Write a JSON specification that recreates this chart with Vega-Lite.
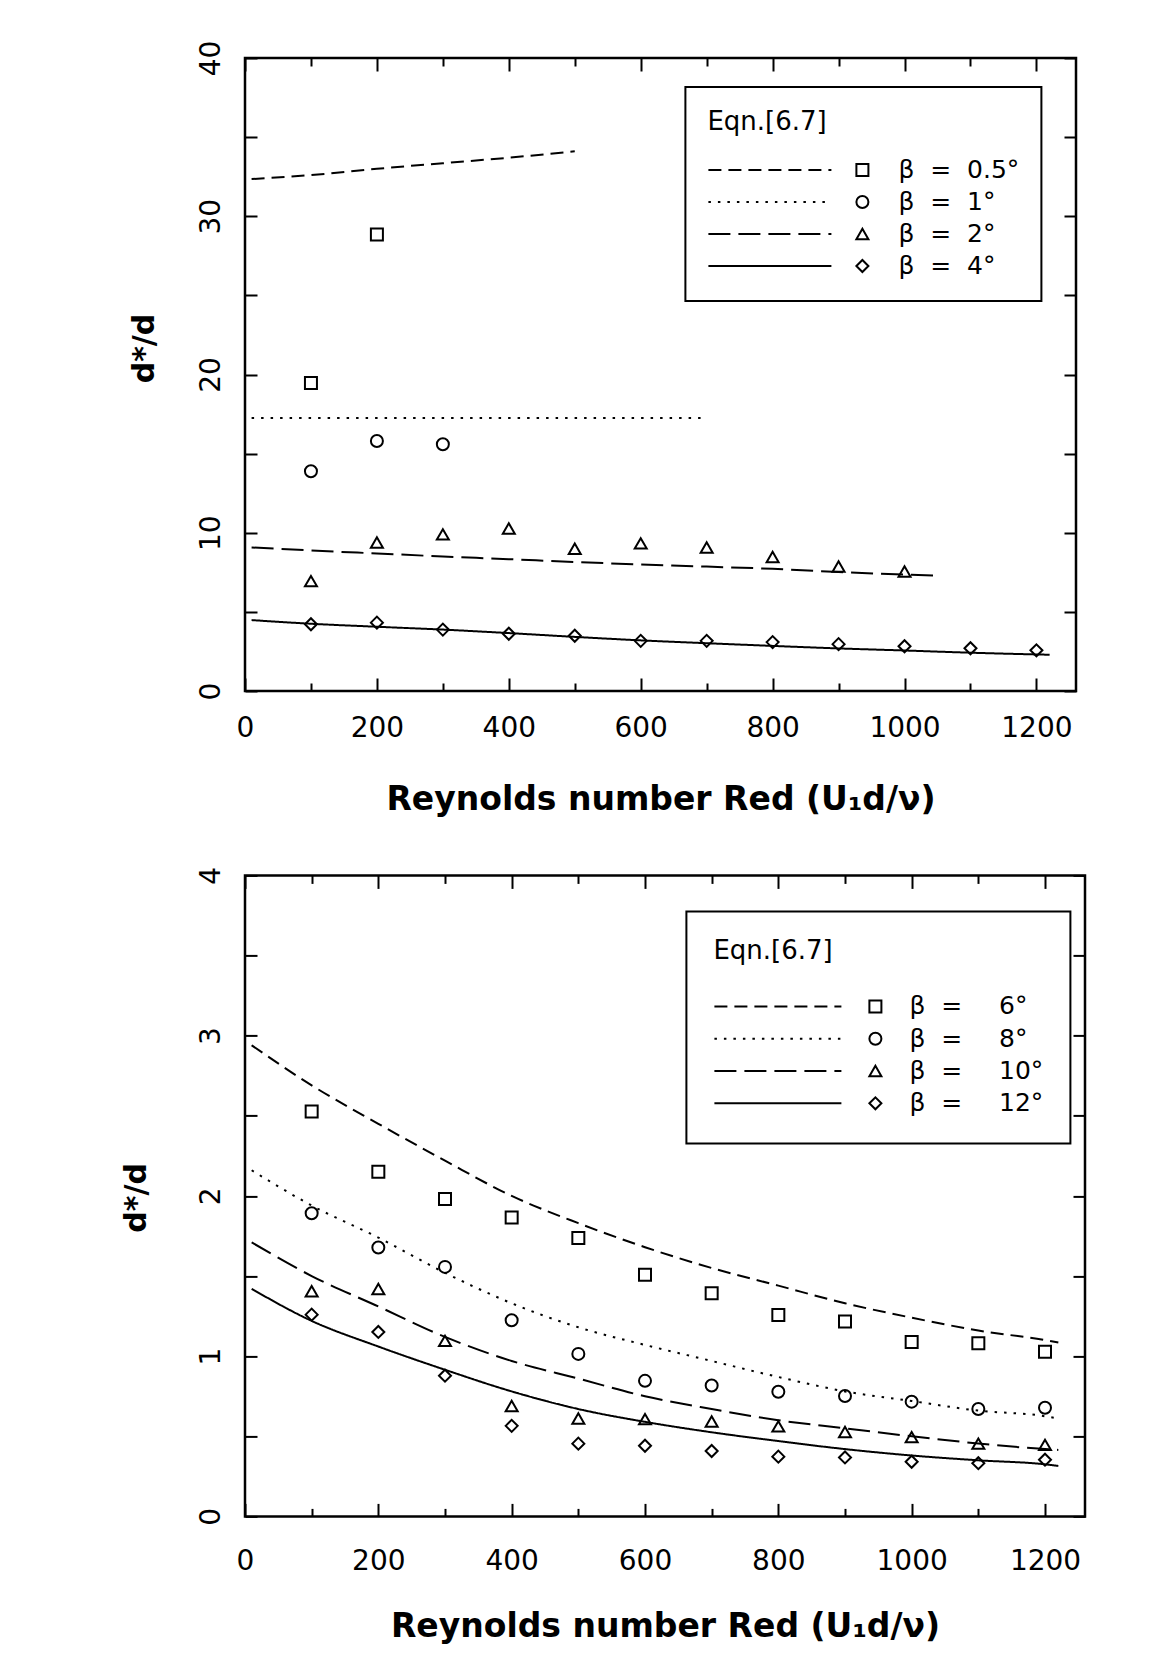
{
  "$schema": "https://vega.github.io/schema/vega-lite/v6.json",
  "background": "white",
  "padding": {"left": 120, "top": 38, "right": 10, "bottom": 10},
  "columns": 1,
  "spacing": 46.4,
  "config": {
    "view": {"stroke": "black", "strokeWidth": 2.5},
    "axis": {
      "grid": false, "domain": false, "tickColor": "black", "tickWidth": 2,
      "labelColor": "black", "titleColor": "black",
      "labelFont": "DejaVu Sans", "labelFontSize": 28,
      "titleFont": "DejaVu Sans", "titleFontWeight": "bold",
      "labelFlush": false, "labelOverlap": false
    },
    "legend": {
      "labelFont": "DejaVu Sans", "labelFontSize": 25, "labelColor": "black",
      "titleFont": "DejaVu Sans", "titleFontSize": 26, "titleFontWeight": "normal", "titleColor": "black",
      "titleAnchor": "start", "symbolStrokeColor": "black", "symbolStrokeWidth": 2
    }
  },
  "resolve": {"scale": {"shape": "independent", "strokeDash": "independent"}},
  "concat": [
    {
      "width": 831,
      "height": 633,
      "layer": [
        {
          "data": {"values": [
            {"beta": 0.5, "Re": 10, "d": 32.35}, {"beta": 0.5, "Re": 100, "d": 32.6}, {"beta": 0.5, "Re": 200, "d": 33.0},
            {"beta": 0.5, "Re": 300, "d": 33.35}, {"beta": 0.5, "Re": 400, "d": 33.7}, {"beta": 0.5, "Re": 500, "d": 34.1},
            {"beta": 1, "Re": 10, "d": 17.25}, {"beta": 1, "Re": 700, "d": 17.25},
            {"beta": 2, "Re": 10, "d": 9.07}, {"beta": 2, "Re": 100, "d": 8.88}, {"beta": 2, "Re": 200, "d": 8.69},
            {"beta": 2, "Re": 300, "d": 8.5}, {"beta": 2, "Re": 400, "d": 8.33}, {"beta": 2, "Re": 500, "d": 8.15},
            {"beta": 2, "Re": 600, "d": 8.0}, {"beta": 2, "Re": 700, "d": 7.86}, {"beta": 2, "Re": 800, "d": 7.72},
            {"beta": 2, "Re": 900, "d": 7.52}, {"beta": 2, "Re": 1000, "d": 7.36}, {"beta": 2, "Re": 1050, "d": 7.29},
            {"beta": 4, "Re": 10, "d": 4.48}, {"beta": 4, "Re": 100, "d": 4.25}, {"beta": 4, "Re": 200, "d": 4.06},
            {"beta": 4, "Re": 300, "d": 3.88}, {"beta": 4, "Re": 400, "d": 3.66}, {"beta": 4, "Re": 500, "d": 3.42},
            {"beta": 4, "Re": 600, "d": 3.2}, {"beta": 4, "Re": 700, "d": 3.02}, {"beta": 4, "Re": 800, "d": 2.85},
            {"beta": 4, "Re": 900, "d": 2.69}, {"beta": 4, "Re": 1000, "d": 2.56}, {"beta": 4, "Re": 1100, "d": 2.42},
            {"beta": 4, "Re": 1200, "d": 2.31}, {"beta": 4, "Re": 1220, "d": 2.29}
          ]},
          "mark": {"type": "line", "color": "black", "strokeWidth": 2, "interpolate": "monotone", "strokeCap": "butt"},
          "encoding": {
            "x": {
              "field": "Re", "type": "quantitative",
              "scale": {"domain": [0, 1260], "nice": false, "zero": false},
              "axis": {
                "orient": "bottom", "format": "d",
                "values": [0, 100, 200, 300, 400, 500, 600, 700, 800, 900, 1000, 1100, 1200],
                "labelExpr": "datum.value % 200 === 0 ? datum.label : ''",
                "tickSize": {"condition": {"test": "datum.value % 200 === 0", "value": -13}, "value": -8},
                "labelPadding": 36.5, "labelBaseline": "top",
                "title": "Reynolds number Red (U₁d/ν)", "titleFontSize": 33, "titlePadding": 36, "titleBaseline": "top"
              }
            },
            "y": {
              "field": "d", "type": "quantitative",
              "scale": {"domain": [0, 40], "nice": false},
              "axis": {
                "orient": "left", "format": "d",
                "values": [0, 5, 10, 15, 20, 25, 30, 35, 40],
                "labelExpr": "datum.value % 10 === 0 ? datum.label : ''",
                "tickSize": -12, "labelAngle": 270, "labelAlign": "center", "labelBaseline": "alphabetic",
                "labelPadding": 37.3,
                "title": "d*/d", "titleFontSize": 30, "titlePadding": 44.3, "titleBaseline": "alphabetic",
                "titleAngle": 270, "titleY": 290
              }
            },
            "strokeDash": {
              "field": "beta", "type": "nominal", "sort": [0.5, 1, 2, 4],
              "scale": {"range": [[13, 7], [2.5, 7], [22, 8], [1, 0]]},
              "legend": {
                "orient": "none", "legendX": 440.4, "legendY": 29,
                "title": "Eqn.[6.7]", "titlePadding": 22.5, "padding": 22, "rowPadding": 6,
                "symbolType": "M-10,0H10", "symbolSize": 151.29, "symbolOffset": 50, "labelOffset": 116,
                "labelExpr": "'β\u00a0\u00a0=\u00a0\u00a0' + datum.label + '°'",
                "strokeColor": "black",
                "encode": {"legend": {"update": {"strokeWidth": {"value": 2}}}}
              }
            }
          }
        },
        {
          "data": {"values": [
            {"beta": 0.5, "Re": 100, "d": 19.47}, {"beta": 0.5, "Re": 200, "d": 28.85},
            {"beta": 1, "Re": 100, "d": 13.89}, {"beta": 1, "Re": 200, "d": 15.8}, {"beta": 1, "Re": 300, "d": 15.59},
            {"beta": 2, "Re": 100, "d": 6.94}, {"beta": 2, "Re": 200, "d": 9.38}, {"beta": 2, "Re": 300, "d": 9.9},
            {"beta": 2, "Re": 400, "d": 10.27}, {"beta": 2, "Re": 500, "d": 8.99}, {"beta": 2, "Re": 600, "d": 9.33},
            {"beta": 2, "Re": 700, "d": 9.07}, {"beta": 2, "Re": 800, "d": 8.47}, {"beta": 2, "Re": 900, "d": 7.87},
            {"beta": 2, "Re": 1000, "d": 7.55},
            {"beta": 4, "Re": 100, "d": 4.22}, {"beta": 4, "Re": 200, "d": 4.32}, {"beta": 4, "Re": 300, "d": 3.88},
            {"beta": 4, "Re": 400, "d": 3.62}, {"beta": 4, "Re": 500, "d": 3.49}, {"beta": 4, "Re": 600, "d": 3.17},
            {"beta": 4, "Re": 700, "d": 3.17}, {"beta": 4, "Re": 800, "d": 3.09}, {"beta": 4, "Re": 900, "d": 2.96},
            {"beta": 4, "Re": 1000, "d": 2.83}, {"beta": 4, "Re": 1100, "d": 2.7}, {"beta": 4, "Re": 1200, "d": 2.57}
          ]},
          "mark": {"type": "point", "filled": false, "color": "black", "strokeWidth": 2, "size": 144, "opacity": 1},
          "encoding": {
            "x": {
              "field": "Re", "type": "quantitative",
              "axis": {
                "orient": "top", "labels": false, "title": null,
                "values": [0, 100, 200, 300, 400, 500, 600, 700, 800, 900, 1000, 1100, 1200],
                "tickSize": {"condition": {"test": "datum.value % 200 === 0", "value": -13}, "value": -8}
              }
            },
            "y": {
              "field": "d", "type": "quantitative",
              "axis": {
                "orient": "right", "labels": false, "title": null,
                "values": [0, 5, 10, 15, 20, 25, 30, 35, 40], "tickSize": -12
              }
            },
            "shape": {
              "field": "beta", "type": "nominal", "sort": [0.5, 1, 2, 4],
              "scale": {"range": ["square", "circle", "triangle-up", "diamond"]},
              "legend": {
                "orient": "none", "legendX": 582.9, "legendY": 29,
                "title": "\u00a0", "titlePadding": 22.5, "padding": 22, "rowPadding": 6,
                "symbolSize": 144, "symbolFillColor": "transparent",
                "labelExpr": "'\u00a0'", "labelColor": "transparent"
              }
            }
          }
        }
      ],
      "resolve": {"axis": {"x": "independent", "y": "independent"}}
    },
    {
      "width": 840,
      "height": 641,
      "layer": [
        {
          "data": {"values": [
            {"beta": 6, "Re": 10, "d": 2.94}, {"beta": 6, "Re": 100, "d": 2.69}, {"beta": 6, "Re": 200, "d": 2.45},
            {"beta": 6, "Re": 300, "d": 2.22}, {"beta": 6, "Re": 400, "d": 2.0}, {"beta": 6, "Re": 500, "d": 1.83},
            {"beta": 6, "Re": 600, "d": 1.68}, {"beta": 6, "Re": 700, "d": 1.55}, {"beta": 6, "Re": 800, "d": 1.44},
            {"beta": 6, "Re": 900, "d": 1.33}, {"beta": 6, "Re": 1000, "d": 1.24}, {"beta": 6, "Re": 1100, "d": 1.16},
            {"beta": 6, "Re": 1200, "d": 1.1}, {"beta": 6, "Re": 1220, "d": 1.085},
            {"beta": 8, "Re": 10, "d": 2.16}, {"beta": 8, "Re": 100, "d": 1.94}, {"beta": 8, "Re": 200, "d": 1.74},
            {"beta": 8, "Re": 300, "d": 1.52}, {"beta": 8, "Re": 400, "d": 1.33}, {"beta": 8, "Re": 500, "d": 1.18},
            {"beta": 8, "Re": 600, "d": 1.07}, {"beta": 8, "Re": 700, "d": 0.97}, {"beta": 8, "Re": 800, "d": 0.87},
            {"beta": 8, "Re": 900, "d": 0.78}, {"beta": 8, "Re": 1000, "d": 0.72}, {"beta": 8, "Re": 1100, "d": 0.66},
            {"beta": 8, "Re": 1200, "d": 0.625}, {"beta": 8, "Re": 1220, "d": 0.61},
            {"beta": 10, "Re": 10, "d": 1.71}, {"beta": 10, "Re": 100, "d": 1.5}, {"beta": 10, "Re": 200, "d": 1.31},
            {"beta": 10, "Re": 300, "d": 1.12}, {"beta": 10, "Re": 400, "d": 0.97}, {"beta": 10, "Re": 500, "d": 0.86},
            {"beta": 10, "Re": 600, "d": 0.75}, {"beta": 10, "Re": 700, "d": 0.67}, {"beta": 10, "Re": 800, "d": 0.6},
            {"beta": 10, "Re": 900, "d": 0.55}, {"beta": 10, "Re": 1000, "d": 0.5}, {"beta": 10, "Re": 1100, "d": 0.455},
            {"beta": 10, "Re": 1200, "d": 0.42}, {"beta": 10, "Re": 1220, "d": 0.415},
            {"beta": 12, "Re": 10, "d": 1.42}, {"beta": 12, "Re": 100, "d": 1.22}, {"beta": 12, "Re": 200, "d": 1.06},
            {"beta": 12, "Re": 300, "d": 0.915}, {"beta": 12, "Re": 400, "d": 0.78}, {"beta": 12, "Re": 500, "d": 0.67},
            {"beta": 12, "Re": 600, "d": 0.59}, {"beta": 12, "Re": 700, "d": 0.525}, {"beta": 12, "Re": 800, "d": 0.47},
            {"beta": 12, "Re": 900, "d": 0.42}, {"beta": 12, "Re": 1000, "d": 0.38}, {"beta": 12, "Re": 1100, "d": 0.35},
            {"beta": 12, "Re": 1200, "d": 0.325}, {"beta": 12, "Re": 1220, "d": 0.315}
          ]},
          "mark": {"type": "line", "color": "black", "strokeWidth": 2, "interpolate": "monotone", "strokeCap": "butt"},
          "encoding": {
            "x": {
              "field": "Re", "type": "quantitative",
              "scale": {"domain": [0, 1260], "nice": false, "zero": false},
              "axis": {
                "orient": "bottom", "format": "d",
                "values": [0, 100, 200, 300, 400, 500, 600, 700, 800, 900, 1000, 1100, 1200],
                "labelExpr": "datum.value % 200 === 0 ? datum.label : ''",
                "tickSize": {"condition": {"test": "datum.value % 200 === 0", "value": -13}, "value": -8},
                "labelPadding": 43.8, "labelBaseline": "top",
                "title": "Reynolds number Red (U₁d/ν)", "titleFontSize": 33, "titlePadding": 30, "titleBaseline": "top"
              }
            },
            "y": {
              "field": "d", "type": "quantitative",
              "scale": {"domain": [0, 4], "nice": false},
              "axis": {
                "orient": "left", "format": "~g",
                "values": [0, 0.5, 1, 1.5, 2, 2.5, 3, 3.5, 4],
                "labelExpr": "datum.value % 1 === 0 ? datum.label : ''",
                "tickSize": -12, "labelAngle": 270, "labelAlign": "center", "labelBaseline": "alphabetic",
                "labelPadding": 37.4,
                "title": "d*/d", "titleFontSize": 30, "titlePadding": 52.3, "titleBaseline": "alphabetic",
                "titleAngle": 270, "titleY": 322
              }
            },
            "strokeDash": {
              "field": "beta", "type": "nominal", "sort": [6, 8, 10, 12],
              "scale": {"range": [[13, 7], [2.5, 7], [22, 8], [1, 0]]},
              "legend": {
                "orient": "none", "legendX": 441.4, "legendY": 36,
                "title": "Eqn.[6.7]", "titlePadding": 29.5, "padding": 27, "rowPadding": 6.3,
                "symbolType": "M-10,0H10", "symbolSize": 161.29, "symbolOffset": 52, "labelOffset": 119,
                "labelExpr": "'β\u00a0\u00a0=\u00a0\u00a0\u00a0\u00a0\u2009' + datum.label + '°'",
                "strokeColor": "black",
                "encode": {"legend": {"update": {"strokeWidth": {"value": 2}}}}
              }
            }
          }
        },
        {
          "data": {"values": [
            {"beta": 6, "Re": 100, "d": 2.527}, {"beta": 6, "Re": 200, "d": 2.151}, {"beta": 6, "Re": 300, "d": 1.981},
            {"beta": 6, "Re": 400, "d": 1.865}, {"beta": 6, "Re": 500, "d": 1.738}, {"beta": 6, "Re": 600, "d": 1.508},
            {"beta": 6, "Re": 700, "d": 1.392}, {"beta": 6, "Re": 800, "d": 1.257}, {"beta": 6, "Re": 900, "d": 1.216},
            {"beta": 6, "Re": 1000, "d": 1.089}, {"beta": 6, "Re": 1100, "d": 1.081}, {"beta": 6, "Re": 1200, "d": 1.027},
            {"beta": 8, "Re": 100, "d": 1.892}, {"beta": 8, "Re": 200, "d": 1.678}, {"beta": 8, "Re": 300, "d": 1.557},
            {"beta": 8, "Re": 400, "d": 1.224}, {"beta": 8, "Re": 500, "d": 1.014}, {"beta": 8, "Re": 600, "d": 0.846},
            {"beta": 8, "Re": 700, "d": 0.817}, {"beta": 8, "Re": 800, "d": 0.778}, {"beta": 8, "Re": 900, "d": 0.751},
            {"beta": 8, "Re": 1000, "d": 0.716}, {"beta": 8, "Re": 1100, "d": 0.67}, {"beta": 8, "Re": 1200, "d": 0.678},
            {"beta": 10, "Re": 100, "d": 1.405}, {"beta": 10, "Re": 200, "d": 1.419}, {"beta": 10, "Re": 300, "d": 1.095},
            {"beta": 10, "Re": 400, "d": 0.689}, {"beta": 10, "Re": 500, "d": 0.611}, {"beta": 10, "Re": 600, "d": 0.607},
            {"beta": 10, "Re": 700, "d": 0.592}, {"beta": 10, "Re": 800, "d": 0.562}, {"beta": 10, "Re": 900, "d": 0.527},
            {"beta": 10, "Re": 1000, "d": 0.495}, {"beta": 10, "Re": 1100, "d": 0.454}, {"beta": 10, "Re": 1200, "d": 0.446},
            {"beta": 12, "Re": 100, "d": 1.259}, {"beta": 12, "Re": 200, "d": 1.151}, {"beta": 12, "Re": 300, "d": 0.878},
            {"beta": 12, "Re": 400, "d": 0.565}, {"beta": 12, "Re": 500, "d": 0.454}, {"beta": 12, "Re": 600, "d": 0.441},
            {"beta": 12, "Re": 700, "d": 0.408}, {"beta": 12, "Re": 800, "d": 0.373}, {"beta": 12, "Re": 900, "d": 0.368},
            {"beta": 12, "Re": 1000, "d": 0.341}, {"beta": 12, "Re": 1100, "d": 0.332}, {"beta": 12, "Re": 1200, "d": 0.354}
          ]},
          "mark": {"type": "point", "filled": false, "color": "black", "strokeWidth": 2, "size": 144, "opacity": 1},
          "encoding": {
            "x": {
              "field": "Re", "type": "quantitative",
              "axis": {
                "orient": "top", "labels": false, "title": null,
                "values": [0, 100, 200, 300, 400, 500, 600, 700, 800, 900, 1000, 1100, 1200],
                "tickSize": {"condition": {"test": "datum.value % 200 === 0", "value": -13}, "value": -8}
              }
            },
            "y": {
              "field": "d", "type": "quantitative",
              "axis": {
                "orient": "right", "labels": false, "title": null,
                "values": [0, 0.5, 1, 1.5, 2, 2.5, 3, 3.5, 4], "tickSize": -12
              }
            },
            "shape": {
              "field": "beta", "type": "nominal", "sort": [6, 8, 10, 12],
              "scale": {"range": ["square", "circle", "triangle-up", "diamond"]},
              "legend": {
                "orient": "none", "legendX": 590.9, "legendY": 36,
                "title": "\u00a0", "titlePadding": 29.5, "padding": 27, "rowPadding": 6.3,
                "symbolSize": 144, "symbolFillColor": "transparent",
                "labelExpr": "'\u00a0'", "labelColor": "transparent"
              }
            }
          }
        }
      ],
      "resolve": {"axis": {"x": "independent", "y": "independent"}}
    }
  ]
}
